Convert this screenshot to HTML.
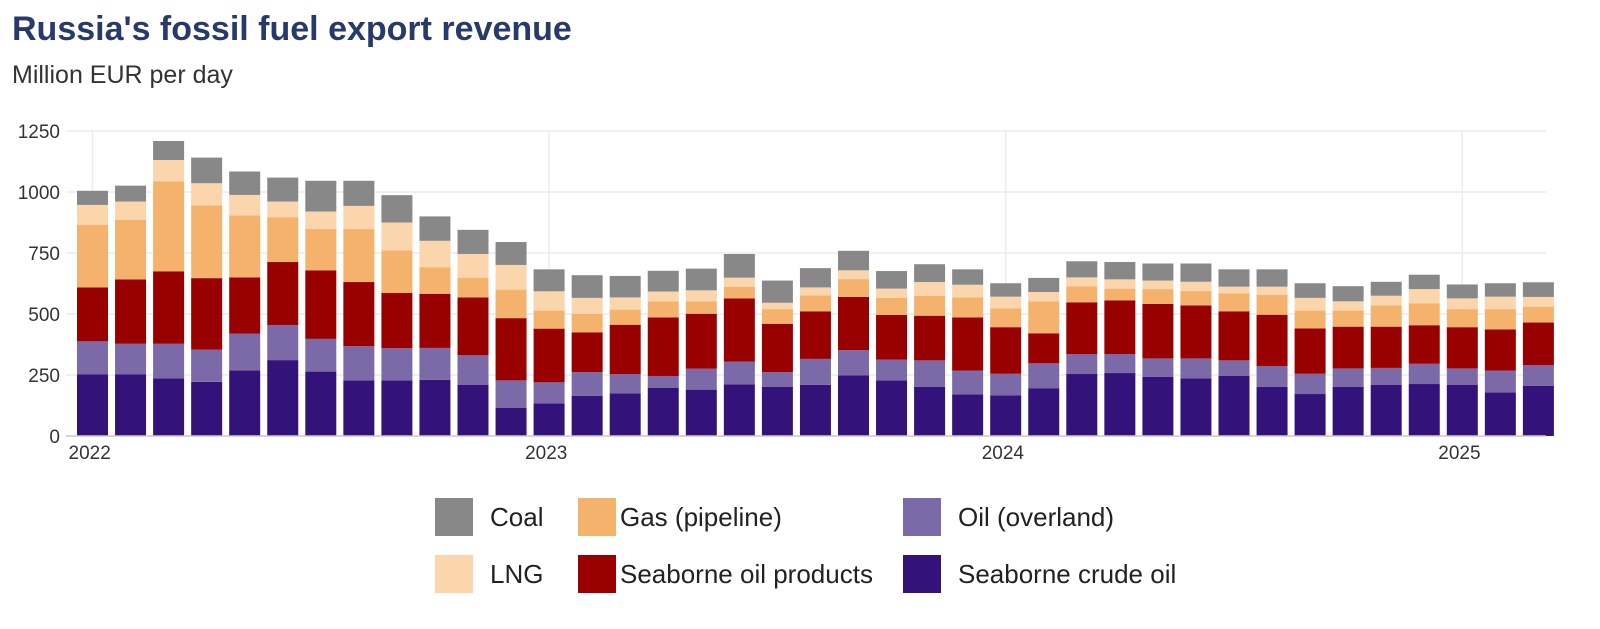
<!DOCTYPE html>
<html><head><meta charset="utf-8"><style>
body{margin:0;background:#fff;width:1600px;height:624px;overflow:hidden;font-family:"Liberation Sans",sans-serif}
</style></head><body>
<svg width="1600" height="624" xmlns="http://www.w3.org/2000/svg">
<text x="12" y="40" font-size="34" font-weight="bold" fill="#283a6b">Russia's fossil fuel export revenue</text>
<text x="12" y="83" font-size="25" fill="#333">Million EUR per day</text>
<g id="grid"></g><g id="bars"></g><g id="axes"></g><g id="legend"></g>
</svg>
<script>
const years=["2022","2023","2024","2025"];
const yTicks=[0,250,500,750,1000,1250];
const seriesNames=["Seaborne crude oil","Oil (overland)","Seaborne oil products","Gas (pipeline)","LNG","Coal"];
const seriesColors=["#33137a","#7b6aa7","#990000","#f4b26c","#fbd6ac","#888888"];
// cumulative tops per month (Jan 2022 .. Mar 2025)
const crude=[252,252,236,222,269,311,264,228,228,230,209,116,134,165,175,198,190,212,202,210,249,228,201,171,167,196,254,258,243,236,246,202,172,202,209,213,209,179,205];
const overland=[388,378,378,354,420,455,398,368,360,361,331,228,220,262,254,246,276,305,262,316,352,313,310,268,255,298,336,336,318,318,310,287,255,277,279,296,277,268,290];
const products=[609,642,675,647,650,713,679,631,586,583,568,483,440,425,456,486,501,564,460,511,570,496,493,486,446,421,548,556,541,535,511,497,441,448,448,454,446,437,465];
const gas=[866,886,1043,945,904,897,849,848,761,692,649,600,514,501,518,552,552,611,520,576,643,566,575,568,523,552,613,604,602,594,585,578,514,514,535,544,520,520,530];
const lng=[947,961,1131,1036,988,961,920,943,875,800,746,701,593,566,568,592,597,649,546,609,679,604,631,620,571,590,650,642,637,632,612,612,566,552,575,602,564,571,570];
const coal=[1005,1026,1209,1141,1084,1059,1046,1046,987,900,845,795,683,659,656,677,686,746,637,688,759,676,704,683,626,648,716,713,707,707,683,683,626,614,632,661,621,626,630];
const stacks=[crude,overland,products,gas,lng,coal];
const NS="http://www.w3.org/2000/svg";
const y0=436,y1=131,vmax=1250;
const yS=v=>y0-(v/vmax)*(y0-y1);
const xS=i=>77+i*38.05;
const bw=31;
function mk(tag,attrs,parent){const e=document.createElementNS(NS,tag);for(const k in attrs)e.setAttribute(k,attrs[k]);parent.appendChild(e);return e;}
const grid=document.getElementById('grid'),bars=document.getElementById('bars'),axes=document.getElementById('axes'),leg=document.getElementById('legend');
yTicks.forEach(t=>{
 const l=mk('line',{x1:66,x2:1546,y1:yS(t),y2:yS(t),stroke:'#ececec','stroke-width':1.5},grid);
 
 
 const tx=mk('text',{x:60,y:yS(t)+7,'font-size':19,'text-anchor':'end',fill:'#333'},axes);
 tx.textContent=t;
 
 
});
years.forEach((yr,k)=>{
 const x=xS(k*12)+bw/2;
 const l=mk('line',{x1:x,x2:x,y1:y1,y2:y0,stroke:'#ececec','stroke-width':1.5},grid);
 
 
 const tx=mk('text',{x:x-24,y:459,'font-size':19,fill:'#333'},axes);
 tx.textContent=yr;
 
 
});
mk('line',{x1:66,x2:1546,y1:y0,y2:y0,stroke:'#ccc','stroke-width':1.5},axes);
for(let i=0;i<crude.length;i++){
 let prev=0;
 stacks.forEach((arr,s)=>{
  const top=arr[i];
  const r=mk('rect',{x:xS(i),y:yS(top),width:bw,height:Math.max(0,yS(prev)-yS(top)),fill:seriesColors[s]},bars);
  
  
  prev=top;
 });
}
const legItems=[[5,435,498,490],[3,578,498,620],[1,903,498,958],[4,435,555,490],[2,578,555,620],[0,903,555,958]];
legItems.forEach(([s,bx,by,tx])=>{
 const r=mk('rect',{x:bx,y:by,width:38,height:38,fill:seriesColors[s]},leg);
 
 
 const t=mk('text',{x:tx,y:by+28,'font-size':26,fill:'#222'},leg);
 t.textContent=s==5?"Coal":s==4?"LNG":seriesNames[s];
 
 
});
</script>
</body></html>
